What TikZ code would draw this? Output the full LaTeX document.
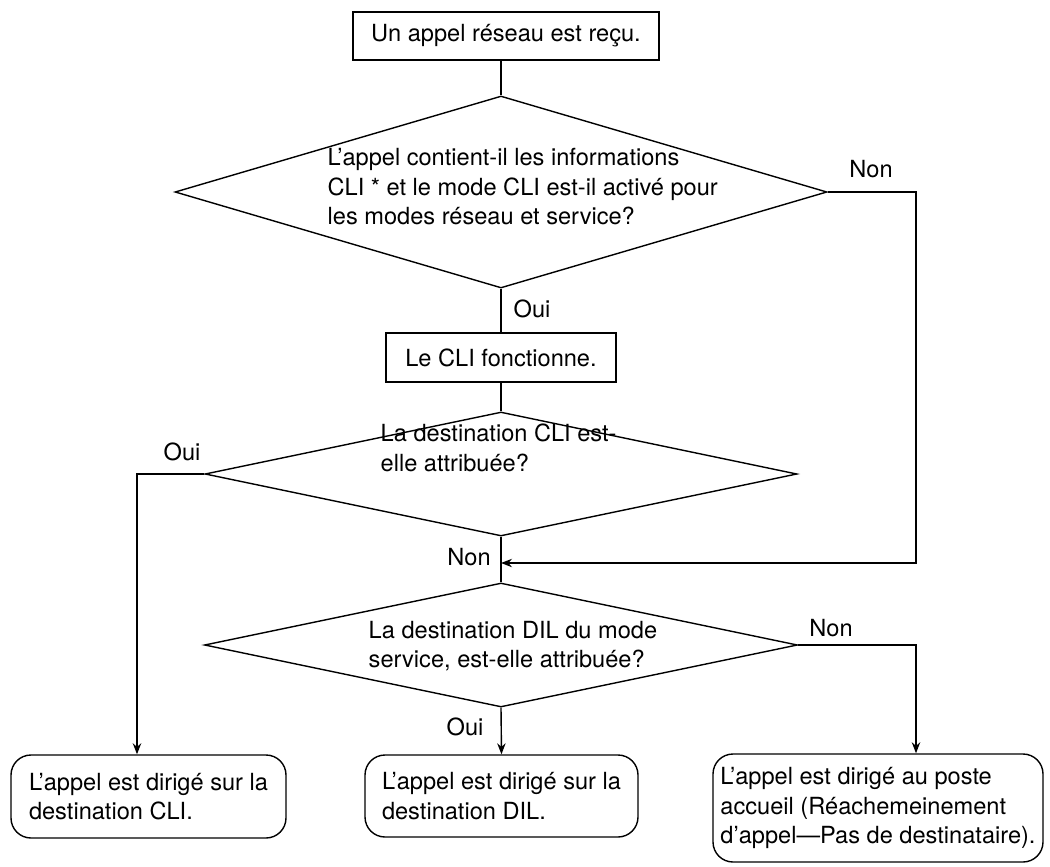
\documentclass[tikz,border=0pt]{standalone}
\usepackage{fontspec}
\setmainfont{TeX Gyre Heros}
\usetikzlibrary{shapes.geometric,arrows.meta}
\begin{document}
\begin{tikzpicture}[x=0.5pt,y=-0.5pt,
  line width=0.7pt,
  every node/.style={font=\fontsize{11.8}{14.75}\selectfont},
  stepbox/.style={draw,rectangle,inner sep=0pt,align=left},
  endbox/.style={draw,rectangle,rounded corners=10pt,inner sep=0pt,align=left},
  test/.style={draw,diamond,inner sep=0pt},
  qtext/.style={anchor=west,align=left,inner sep=0pt},
  lbl/.style={inner sep=0pt},
  arr/.style={-{Stealth[length=5.5pt,width=4.2pt]}}]
\useasboundingbox (0,0) rectangle (1050,867);

% process boxes and decisions
\node[stepbox,minimum width=153pt,minimum height=24pt] (start) at (506,36) {Un appel réseau est reçu.};
\node[test,minimum width=326pt,minimum height=96pt] (q1) at (501,192) {};
\node[qtext] (q1t) at (327,187) {L’appel contient-il les informations\\CLI * et le mode CLI est-il activé pour\\les modes réseau et service?};
\node[stepbox,minimum width=115pt,minimum height=24.5pt] (cli) at (501,357.5) {Le CLI fonctionne.};
\node[test,minimum width=296pt,minimum height=62pt] (q2) at (501,474) {};
\node[qtext] (q2t) at (380,448) {La destination CLI est-\\elle attribuée?};
\node[test,minimum width=296.5pt,minimum height=62pt] (q3) at (501,645) {};
\node[qtext] (q3t) at (368,646) {La destination DIL du mode\\service, est-elle attribuée?};

% outcomes
\node[endbox,minimum width=137.5pt,minimum height=41.5pt] (dcli) at (148.5,796.5) {L’appel est dirigé sur la\\destination CLI.};
\node[endbox,minimum width=136.5pt,minimum height=41pt] (ddil) at (501.5,796) {L’appel est dirigé sur la\\destination DIL.};
\node[endbox,minimum width=165pt,minimum height=54pt] (dop) at (878,808) {L’appel est dirigé au poste\\accueil (Réachemeinement\\d’appel—Pas de destinataire).};

% bend points
\coordinate (jr1) at (916,192);
\coordinate (jr2) at (916,563);
\coordinate (jl) at (137,474);
\coordinate (jr3) at (916,645);

% connectors
\draw (q1.north |- start.south) -- (q1.north);
\draw (q1.south) -- (cli.north);
\draw (cli.south) -- (q2.north);
\draw (q2.south) -- (q3.north);
\draw[arr] (q1.east) -- (jr1) -- (jr2) -- (q2.south |- jr2);
\draw[arr] (q2.west) -- (jl) -- (jl |- dcli.north);
\draw[arr] (q3.south) -- (ddil.north);
\draw[arr] (q3.east) -- (jr3) -- (jr3 |- dop.north);

% branch labels
\node[lbl] at (871,169) {Non};
\node[lbl] at (532,309) {Oui};
\node[lbl] at (182,452) {Oui};
\node[lbl] at (469,557) {Non};
\node[lbl] at (831,628) {Non};
\node[lbl] at (465,727) {Oui};
\end{tikzpicture}
\end{document}
